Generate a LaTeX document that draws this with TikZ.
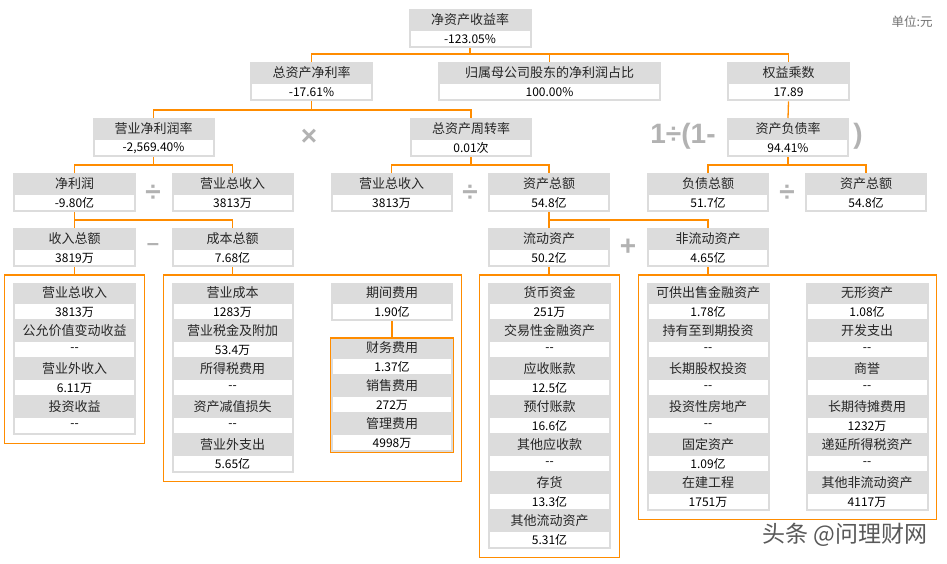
\documentclass[tikz,border=0pt]{standalone}
\usepackage{fontspec}
\setmainfont{Noto Sans CJK SC}
\newfontfamily\opfont{Liberation Sans}
\usetikzlibrary{fit}
\definecolor{boxgray}{RGB}{220,220,220}
\definecolor{lineorange}{RGB}{255,140,0}
\definecolor{opgray}{RGB}{178,178,178}
\tikzset{
  ttl/.style={fill=boxgray, inner sep=0pt, anchor=north, minimum height=20pt,
    text=black!85, font=\fontsize{13}{15}\selectfont},
  val/.style={fill=white, draw=boxgray, line width=2pt, inner sep=0pt, anchor=north,
    minimum height=17pt, font=\fontsize{12}{14}\selectfont},
  link/.style={draw=lineorange, line width=1.3pt},
  grp/.style={draw=lineorange, line width=1.3pt, inner sep=8pt},
  opsign/.style={text=opgray, font=\opfont\bfseries\fontsize{28}{30}\selectfont},
  unit/.style={text=black!55, font=\fontsize{12.5}{14}\selectfont},
  wmark/.style={text=black!65, font=\fontsize{23}{26}\selectfont}
}
% name, centre x, top y, width, title, value
\newcommand{\kpi}[6]{%
  \node[ttl, minimum width=#4] (#1) at ({#2},{#3}) {#5};
  \node[val, minimum width=#4-2] (#1-v) at (#1.south) {#6};}
\newcommand{\kitem}[6]{%
  \node[ttl, minimum height=19pt, minimum width=#4] (#1) at ({#2},{#3}) {#5};
  \node[val, minimum width=#4-2] (#1-v) at (#1.south) {#6};}
\begin{document}
\begin{tikzpicture}[x=1pt,y=-1pt]
\useasboundingbox (0,0) rectangle (947,563);
\fill[white] (0,0) rectangle (947,563);
\node[unit] (unit) at (912,22) {单位:元};

% tree
\kpi{roe}{470}{9}{123}{净资产收益率}{-123.05\%}
\kpi{roa}{311.5}{62}{123}{总资产净利率}{-17.61\%}
\kpi{ratio}{549.5}{62}{223}{归属母公司股东的净利润占比}{100.00\%}
\kpi{em}{788.5}{62}{123}{权益乘数}{17.89}
\kpi{npm}{153.5}{118}{122}{营业净利润率}{-2,569.40\%}
\kpi{tat}{471}{118}{122}{总资产周转率}{0.01次}
\kpi{dar}{788}{118}{122}{资产负债率}{94.41\%}
\kpi{np}{74.5}{173}{123}{净利润}{-9.80亿}
\kpi{rev1}{232.5}{173}{122}{营业总收入}{3813万}
\kpi{rev2}{391.5}{173}{122}{营业总收入}{3813万}
\kpi{ta1}{549}{173}{122}{资产总额}{54.8亿}
\kpi{tl}{708}{173}{122}{负债总额}{51.7亿}
\kpi{ta2}{866}{173}{122}{资产总额}{54.8亿}
\kpi{ti}{74.5}{228}{123}{收入总额}{3819万}
\kpi{tc}{232.5}{228}{122}{成本总额}{7.68亿}
\kpi{ca}{549}{228}{122}{流动资产}{50.2亿}
\kpi{nca}{708}{228}{122}{非流动资产}{4.65亿}

% operators
\node[opsign] (mul) at (309,137) {×};
\node[opsign] (div1) at (153,193) {÷};
\node[opsign] (div2) at (470,193) {÷};
\node[opsign] (div3) at (787,193) {÷};
\node[opsign, font=\opfont\bfseries\fontsize{22}{24}\selectfont] (minus) at (153,247) {–};
\node[opsign] (plus) at (628,247) {+};
\node[opsign] (inv) at (683,136) {1÷(1-};
\node[opsign] (paren) at (858,136) {)};

% detail stacks
\foreach \t/\v [count=\i] in {营业总收入/3813万, 公允价值变动收益/-{}-,
    营业外收入/6.11万, 投资收益/-{}-}
  \kitem{inc\i}{74.5}{283+38*(\i-1)}{123}{\t}{\v};
\foreach \t/\v [count=\i] in {营业成本/1283万, 营业税金及附加/53.4万,
    所得税费用/-{}-, 资产减值损失/-{}-, 营业外支出/5.65亿}
  \kitem{cost\i}{232.5}{283+38*(\i-1)}{122}{\t}{\v};
\kitem{per}{392}{283}{122}{期间费用}{1.90亿}
\foreach \t/\v [count=\i] in {财务费用/1.37亿, 销售费用/272万, 管理费用/4998万}
  \kitem{exp\i}{392}{338+38*(\i-1)}{122}{\t}{\v};
\foreach \t/\v [count=\i] in {货币资金/251万, 交易性金融资产/-{}-, 应收账款/12.5亿,
    预付账款/16.6亿, 其他应收款/-{}-, 存货/13.3亿, 其他流动资产/5.31亿}
  \kitem{cas\i}{549.5}{283+38*(\i-1)}{123}{\t}{\v};
\foreach \t/\v [count=\i] in {可供出售金融资产/1.78亿, 持有至到期投资/-{}-,
    长期股权投资/-{}-, 投资性房地产/-{}-, 固定资产/1.09亿, 在建工程/1751万}
  \kitem{ncl\i}{708}{283+38*(\i-1)}{123}{\t}{\v};
\foreach \t/\v [count=\i] in {无形资产/1.08亿, 开发支出/-{}-, 商誉/-{}-,
    长期待摊费用/1232万, 递延所得税资产/-{}-, 其他非流动资产/4117万}
  \kitem{ncr\i}{867}{283+38*(\i-1)}{123}{\t}{\v};

% orange frames
\node[grp, fit=(inc1)(inc4-v)] (g-inc) {};
\node[grp, fit=(cost1)(cost5-v)(per)(per-v)] (g-cost) {};
\node[grp, inner sep=0pt, fit=(exp1)(exp3-v)] (g-exp) {};
\node[grp, fit=(cas1)(cas7-v)] (g-ca) {};
\node[grp, fit=(ncl1)(ncr6-v)] (g-nca) {};

% connectors
\draw[link] (roe-v.south) -- ++(0,6);
\draw[link] (roa.north) -- ++(0,-8) -| (em.north);
\draw[link] (ratio.north) -- ++(0,-8);
\draw[link] (roa-v.south) -- ++(0,8);
\draw[link] (npm.north) -- ++(0,-8) -| (tat.north);
\draw[link] (em-v.south) -- (dar.north);
\draw[link] (npm-v.south) -- ++(0,8);
\draw[link] (np.north) -- ++(0,-8) -| (rev1.north);
\draw[link] (tat-v.south) -- ++(0,8);
\draw[link] (rev2.north) -- ++(0,-8) -| (ta1.north);
\draw[link] (dar-v.south) -- ++(0,8);
\draw[link] (tl.north) -- ++(0,-8) -| (ta2.north);
\draw[link] (np-v.south) -- ++(0,8);
\draw[link] (ti.north) -- ++(0,-8) -| (tc.north);
\draw[link] (ta1-v.south) -- ++(0,8);
\draw[link] (ca.north) -- ++(0,-8) -| (nca.north);
\draw[link] (ti-v.south) -- (ti-v.south |- g-inc.north);
\draw[link] (tc-v.south) -- (tc-v.south |- g-cost.north);
\draw[link] (ca-v.south) -- (ca-v.south |- g-ca.north);
\draw[link] (nca-v.south) -- (nca-v.south |- g-nca.north);
\draw[link] (per-v.south) -- (g-exp.north);

\node[wmark] (wm) at (845,535) {头条 @问理财网};
\end{tikzpicture}
\end{document}
